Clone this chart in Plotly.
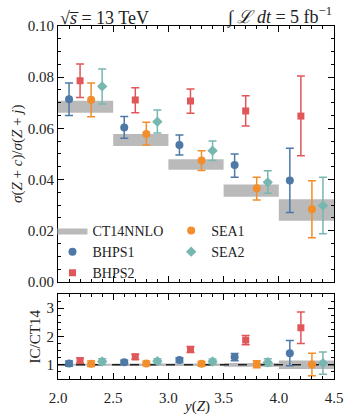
import plotly.graph_objects as go

# ---------------- data ----------------
bins_lo = [2.0, 2.5, 3.0, 3.5, 4.0]
bins_hi = [2.5, 3.0, 3.5, 4.0, 4.5]
ct14_lo = [0.0661, 0.0531, 0.0438, 0.0333, 0.0239]
ct14_hi = [0.0708, 0.0578, 0.0479, 0.0381, 0.0323]

x_bhps1 = [2.1, 2.6, 3.1, 3.6, 4.1]
x_bhps2 = [2.2, 2.7, 3.2, 3.7, 4.2]
x_sea1 = [2.3, 2.8, 3.3, 3.8, 4.3]
x_sea2 = [2.4, 2.9, 3.4, 3.9, 4.4]

bhps1 = [0.0714, 0.0603, 0.0535, 0.0457, 0.0396]
bhps1_hi = [0.0777, 0.0646, 0.0574, 0.0500, 0.0522]
bhps1_lo = [0.0650, 0.0561, 0.0496, 0.0409, 0.0271]

bhps2 = [0.0786, 0.0711, 0.0707, 0.0668, 0.0648]
bhps2_hi = [0.0852, 0.0759, 0.0754, 0.0727, 0.0805]
bhps2_lo = [0.0721, 0.0661, 0.0659, 0.0609, 0.0493]

sea1 = [0.0712, 0.0578, 0.0474, 0.0366, 0.0284]
sea1_hi = [0.0777, 0.0624, 0.0513, 0.0409, 0.0395]
sea1_lo = [0.0645, 0.0535, 0.0435, 0.0320, 0.0173]

sea2 = [0.0764, 0.0626, 0.0513, 0.0389, 0.0298]
sea2_hi = [0.0832, 0.0672, 0.0551, 0.0434, 0.0409]
sea2_lo = [0.0695, 0.0582, 0.0474, 0.0346, 0.0188]

FONT = "Liberation Serif"
TXT = "#222222"
C_BLUE = "#4e79a7"
C_RED = "#e15759"
C_ORANGE = "#f28e2b"
C_TEAL = "#76b7b2"
C_GREY = "#bababa"

fig = go.Figure()

ct_c = [(a + b) / 2 for a, b in zip(ct14_lo, ct14_hi)]

# CT14 bands (main)
for i in range(len(bins_lo)):
    fig.add_trace(go.Scatter(
        x=[bins_lo[i], bins_hi[i], bins_hi[i], bins_lo[i], bins_lo[i]],
        y=[ct14_lo[i], ct14_lo[i], ct14_hi[i], ct14_hi[i], ct14_lo[i]],
        fill="toself", fillcolor=C_GREY, line=dict(width=0, color=C_GREY), mode="lines",
        name="CT14NNLO", showlegend=(i == 0), legendgroup="ct", legend="legend",
        xaxis="x", yaxis="y", hoverinfo="skip"))

# CT14 bands (ratio)
for i in range(len(bins_lo)):
    lo_r = ct14_lo[i] / ct_c[i]
    hi_r = ct14_hi[i] / ct_c[i]
    fig.add_trace(go.Scatter(
        x=[bins_lo[i], bins_hi[i], bins_hi[i], bins_lo[i], bins_lo[i]],
        y=[lo_r, lo_r, hi_r, hi_r, lo_r],
        fill="toself", fillcolor=C_GREY, line=dict(width=0), mode="lines",
        showlegend=False, xaxis="x2", yaxis="y2", hoverinfo="skip"))

fig.add_trace(go.Scatter(x=[2.0, 4.5], y=[1, 1], mode="lines",
                         line=dict(color="#222", width=1.5, dash="dash"),
                         showlegend=False, xaxis="x2", yaxis="y2"))

series = [
    ("BHPS1", x_bhps1, bhps1, bhps1_hi, bhps1_lo, C_BLUE, "circle", "legend"),
    ("BHPS2", x_bhps2, bhps2, bhps2_hi, bhps2_lo, C_RED, "square", "legend"),
    ("SEA1", x_sea1, sea1, sea1_hi, sea1_lo, C_ORANGE, "circle", "legend2"),
    ("SEA2", x_sea2, sea2, sea2_hi, sea2_lo, C_TEAL, "diamond", "legend2"),
]

for name, xs, v, hi, lo, col, sym, leg in series:
    up = [h - c for h, c in zip(hi, v)]
    dn = [c - l for c, l in zip(v, lo)]
    msize = 7 if sym == "square" else 8
    fig.add_trace(go.Scatter(
        x=xs, y=v, mode="markers", name=name, legend=leg,
        marker=dict(color=col, symbol=sym, size=msize, line=dict(width=0)),
        error_y=dict(type="data", symmetric=False, array=up, arrayminus=dn,
                     color=col, thickness=1.5, width=4),
        xaxis="x", yaxis="y"))
    r = [a / c for a, c in zip(v, ct_c)]
    rup = [a / c for a, c in zip(up, ct_c)]
    rdn = [a / c for a, c in zip(dn, ct_c)]
    fig.add_trace(go.Scatter(
        x=xs, y=r, mode="markers", showlegend=False,
        marker=dict(color=col, symbol=sym, size=msize, line=dict(width=0)),
        error_y=dict(type="data", symmetric=False, array=rup, arrayminus=rdn,
                     color=col, thickness=1.5, width=4),
        xaxis="x2", yaxis="y2"))

axcommon = dict(showline=True, linecolor="black", linewidth=1.2, mirror="ticks",
                ticks="inside", ticklen=6, tickwidth=1, tickcolor="black",
                showgrid=False, zeroline=False, automargin=False,
                tickfont=dict(family=FONT, size=15, color=TXT))

legfont = dict(family=FONT, size=14, color=TXT)
titlefont = dict(family=FONT, size=15, color=TXT)

fig.update_layout(
    width=345, height=415,
    margin=dict(l=58, r=11, t=26, b=36, autoexpand=False),
    paper_bgcolor="white", plot_bgcolor="white",
    font=dict(family=FONT, size=14, color=TXT),
    xaxis=dict(domain=[0, 1], range=[2.0, 4.5], anchor="y", showticklabels=False,
               dtick=0.5, minor=dict(ticks="inside", ticklen=3, dtick=0.1, tickcolor="black"),
               **axcommon),
    yaxis=dict(domain=[0.275, 1], range=[0, 0.10], anchor="x", dtick=0.02,
               tickformat=".2f",
               minor=dict(ticks="inside", ticklen=3, dtick=0.005, tickcolor="black"),
               **axcommon),
    xaxis2=dict(domain=[0, 1], range=[2.0, 4.5], anchor="y2", dtick=0.5,
                tickformat=".1f", ticklabelstandoff=5,
                minor=dict(ticks="inside", ticklen=3, dtick=0.1, tickcolor="black"),
                **axcommon),
    yaxis2=dict(domain=[0, 0.241], range=[0.5, 3.5], anchor="x2", tickvals=[1, 2, 3],
                minor=dict(ticks="inside", ticklen=3, dtick=0.25, tickcolor="black"),
                **axcommon),
    legend=dict(x=-0.02, y=0.465, xanchor="left", yanchor="top", bgcolor="rgba(0,0,0,0)",
                font=legfont, tracegroupgap=0, itemwidth=30),
    legend2=dict(x=0.41, y=0.465, xanchor="left", yanchor="top", bgcolor="rgba(0,0,0,0)",
                 font=legfont, tracegroupgap=0, itemwidth=30),
    annotations=[
        dict(text="√<i>s̅</i> = 13 TeV",
             x=0, y=1.0, xref="paper", yref="paper", xanchor="left", yanchor="bottom",
             showarrow=False, font=dict(family=FONT, size=18, color=TXT), yshift=-4),
        dict(text="∫ <i>ℒ dt</i> = 5 fb<sup>−1</sup>",
             x=1, y=1.0, xref="paper", yref="paper", xanchor="right", yanchor="bottom",
             showarrow=False, font=dict(family=FONT, size=18, color=TXT), yshift=-4),
        dict(text="<i>σ</i>(<i>Z</i> + <i>c</i>)/<i>σ</i>(<i>Z</i> + <i>j</i>)", textangle=-90,
             x=-0.149, y=0.637, xref="paper", yref="paper", xanchor="center", yanchor="middle",
             showarrow=False, font=titlefont),
        dict(text="IC/CT14", textangle=-90,
             x=-0.08, y=0.1205, xref="paper", yref="paper", xanchor="center", yanchor="middle",
             showarrow=False, font=titlefont),
        dict(text="<i>y</i>(<i>Z</i>)",
             x=0.5, y=-0.0765, xref="paper", yref="paper", xanchor="center", yanchor="middle",
             showarrow=False, font=titlefont),
    ],
    showlegend=True,
)

fig.write_html("out.html")
